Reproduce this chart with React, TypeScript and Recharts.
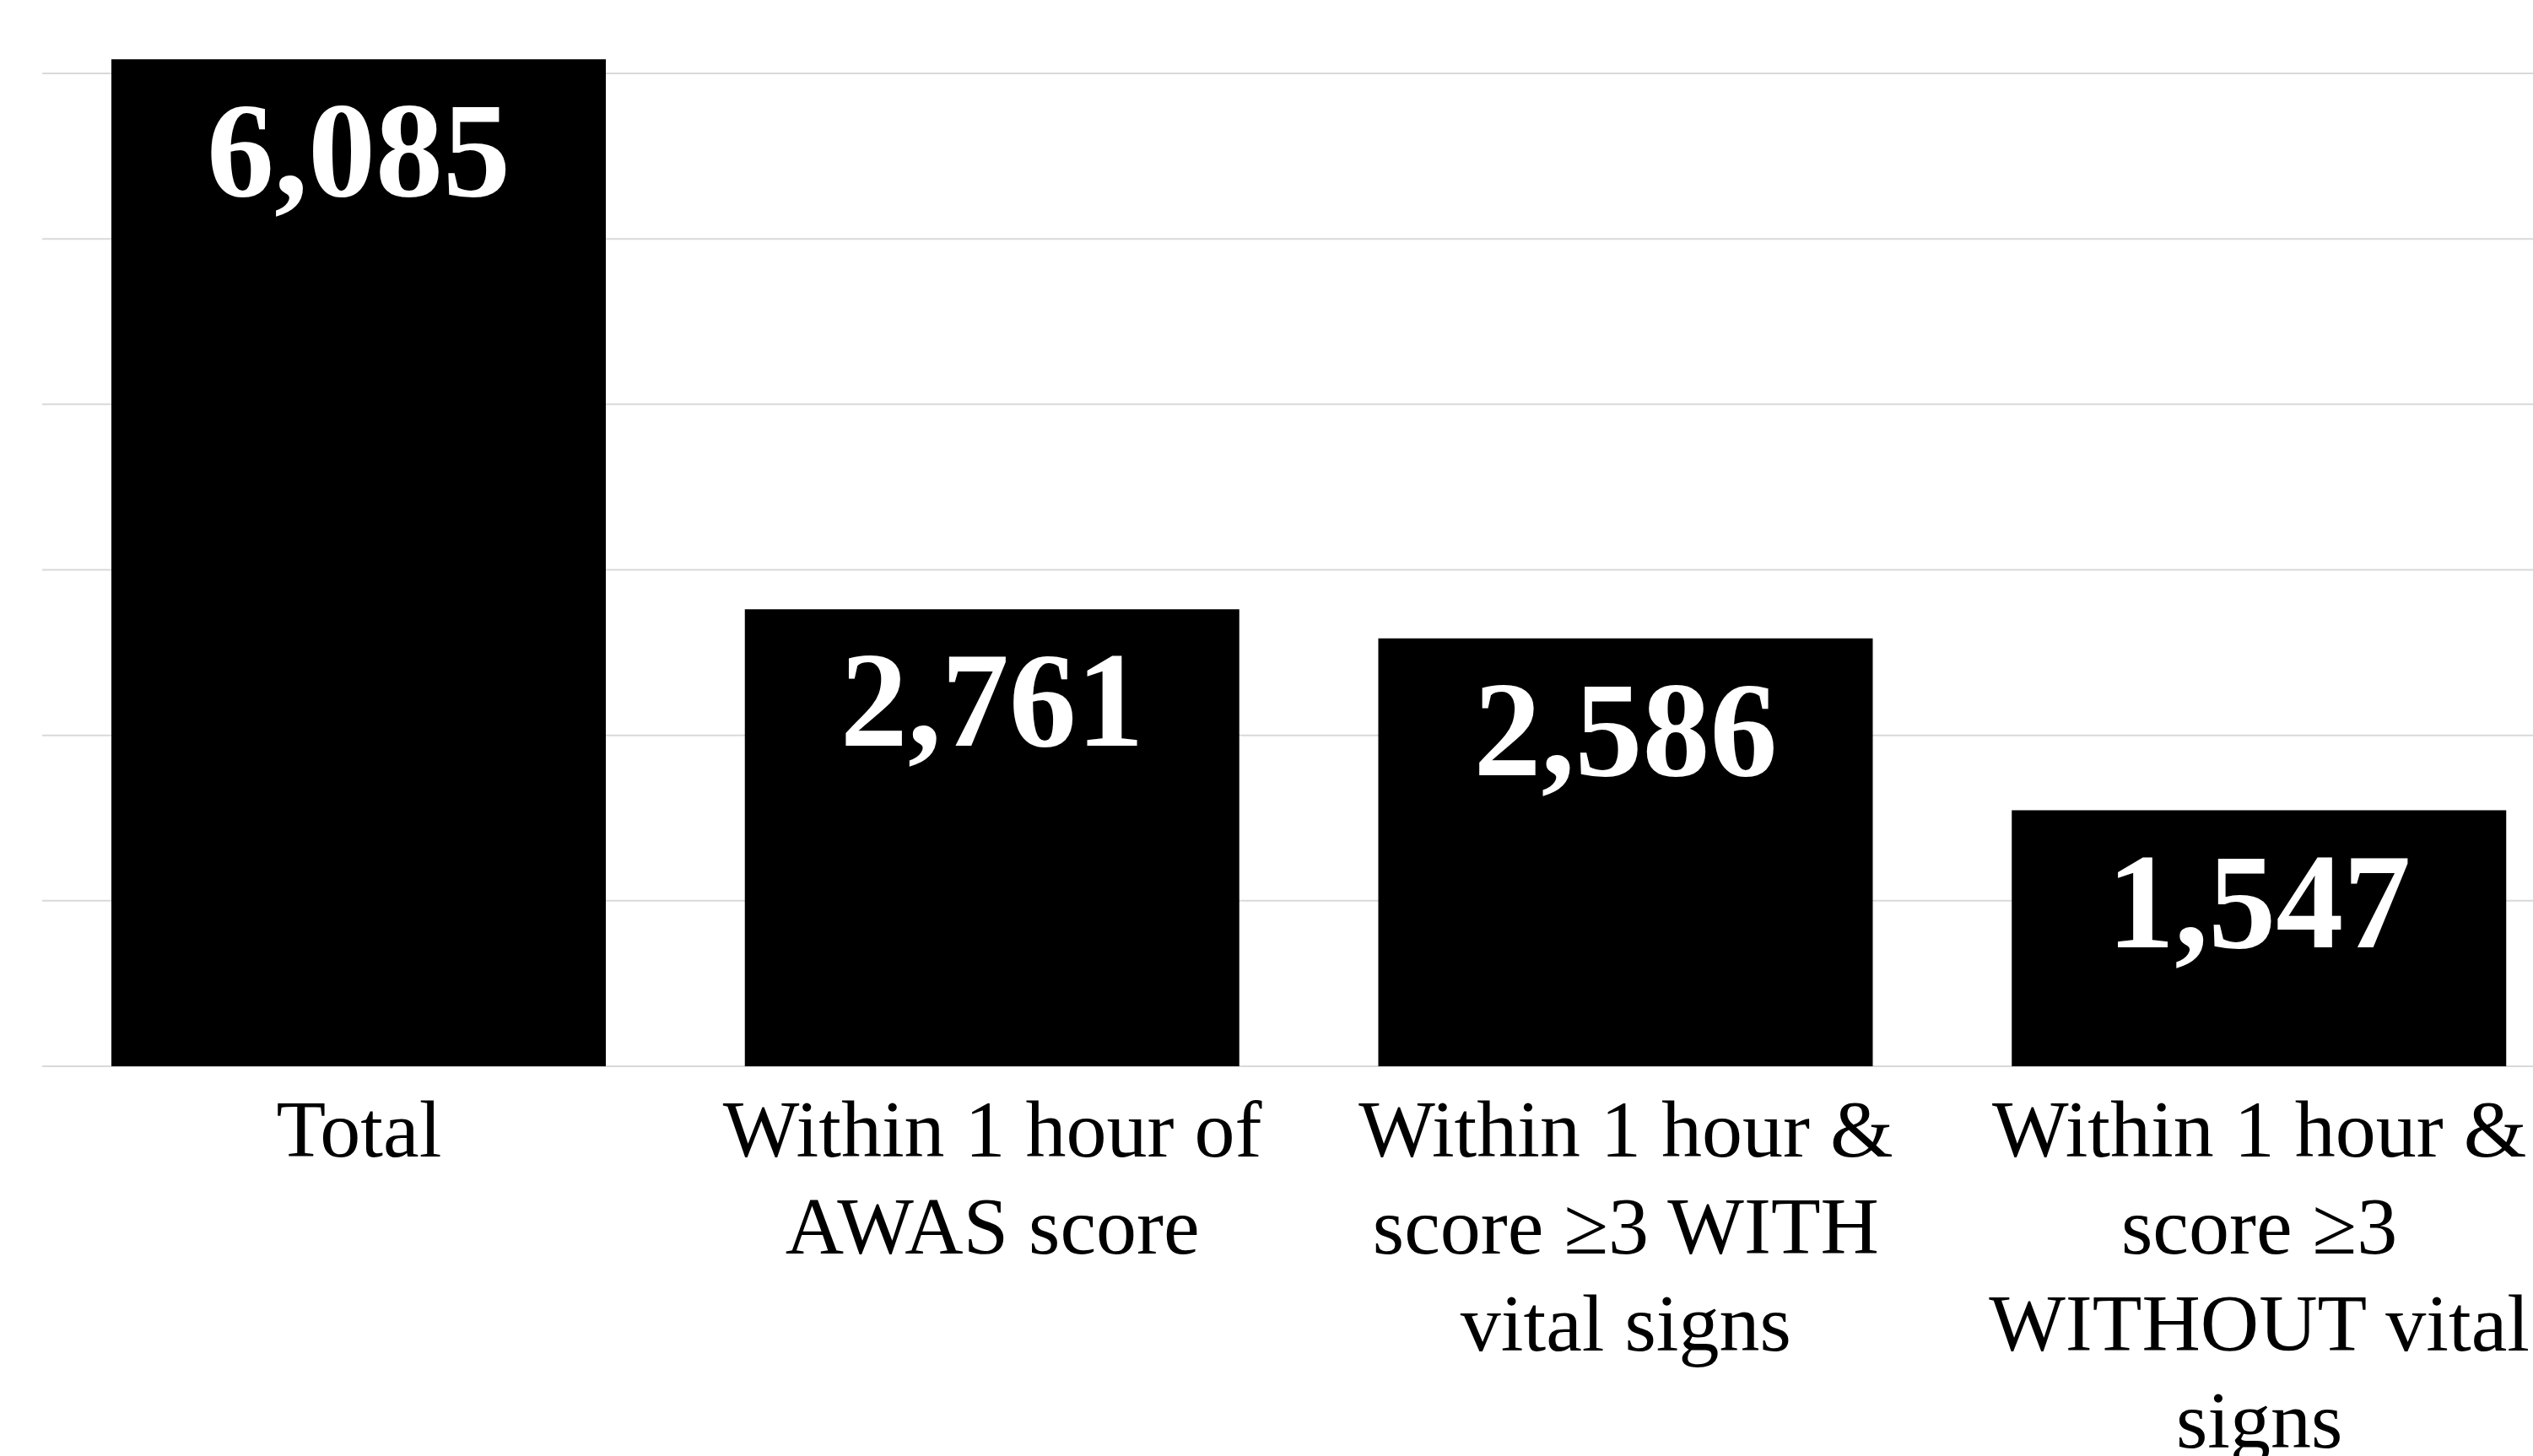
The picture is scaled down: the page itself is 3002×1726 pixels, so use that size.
import { BarChart, Bar, XAxis, YAxis, CartesianGrid, LabelList } from "recharts";

const categories = [
  "Total",
  "Within 1 hour of AWAS score",
  "Within 1 hour & score ≥3 WITH vital signs",
  "Within 1 hour & score ≥3 WITHOUT vital signs",
];
const counts = [6085, 2761, 2586, 1547];
const tickLines = [
  ["Total"],
  ["Within 1 hour of", "AWAS score"],
  ["Within 1 hour &", "score ≥3 WITH", "vital signs"],
  ["Within 1 hour &", "score ≥3", "WITHOUT vital", "signs"],
];
const yTicks = [0, 1000, 2000, 3000, 4000, 5000, 6000];

const data = categories.map((name, i) => ({ name, count: counts[i] }));

const FONT = '"Liberation Serif", "Times New Roman", serif';

function CategoryTick(props: any) {
  const { x, y, index } = props;
  const lines = tickLines[index] || [String(props.payload?.value ?? "")];
  return (
    <text x={x} y={y + 107} textAnchor="middle" fill="#000" fontSize={96} fontFamily={FONT}>
      {lines.map((line, i) => (
        <tspan key={i} x={x} dy={i === 0 ? 0 : 115}>
          {line}
        </tspan>
      ))}
    </text>
  );
}

function ValueLabel(props: any) {
  const { x, y, width, value } = props;
  return (
    <text
      x={x + width / 2}
      y={y + 162}
      textAnchor="middle"
      fill="#fff"
      fontSize={160}
      fontWeight="bold"
      fontFamily={FONT}
    >
      {Number(value).toLocaleString("en-US")}
    </text>
  );
}

export default function App() {
  return (
    <div
      style={{
        position: "absolute",
        left: 0,
        top: 0,
        width: 3002,
        height: 1726,
        overflow: "hidden",
        background: "#fff",
      }}
    >
      <BarChart
        width={3053}
        height={1726}
        data={data}
        margin={{ top: 8.5, right: 0, left: 50, bottom: 0 }}
        barSize={586}
      >
        <CartesianGrid
          stroke="#d9d9d9"
          strokeWidth={2}
          vertical={false}
          horizontalValues={yTicks}
        />
        <XAxis
          dataKey="name"
          axisLine={false}
          tickLine={false}
          tickSize={0}
          tickMargin={0}
          height={462}
          interval={0}
          tick={<CategoryTick />}
        />
        <YAxis hide domain={[0, 6400]} ticks={yTicks} />
        <Bar dataKey="count" fill="#000" isAnimationActive={false}>
          <LabelList dataKey="count" content={<ValueLabel />} />
        </Bar>
      </BarChart>
    </div>
  );
}
